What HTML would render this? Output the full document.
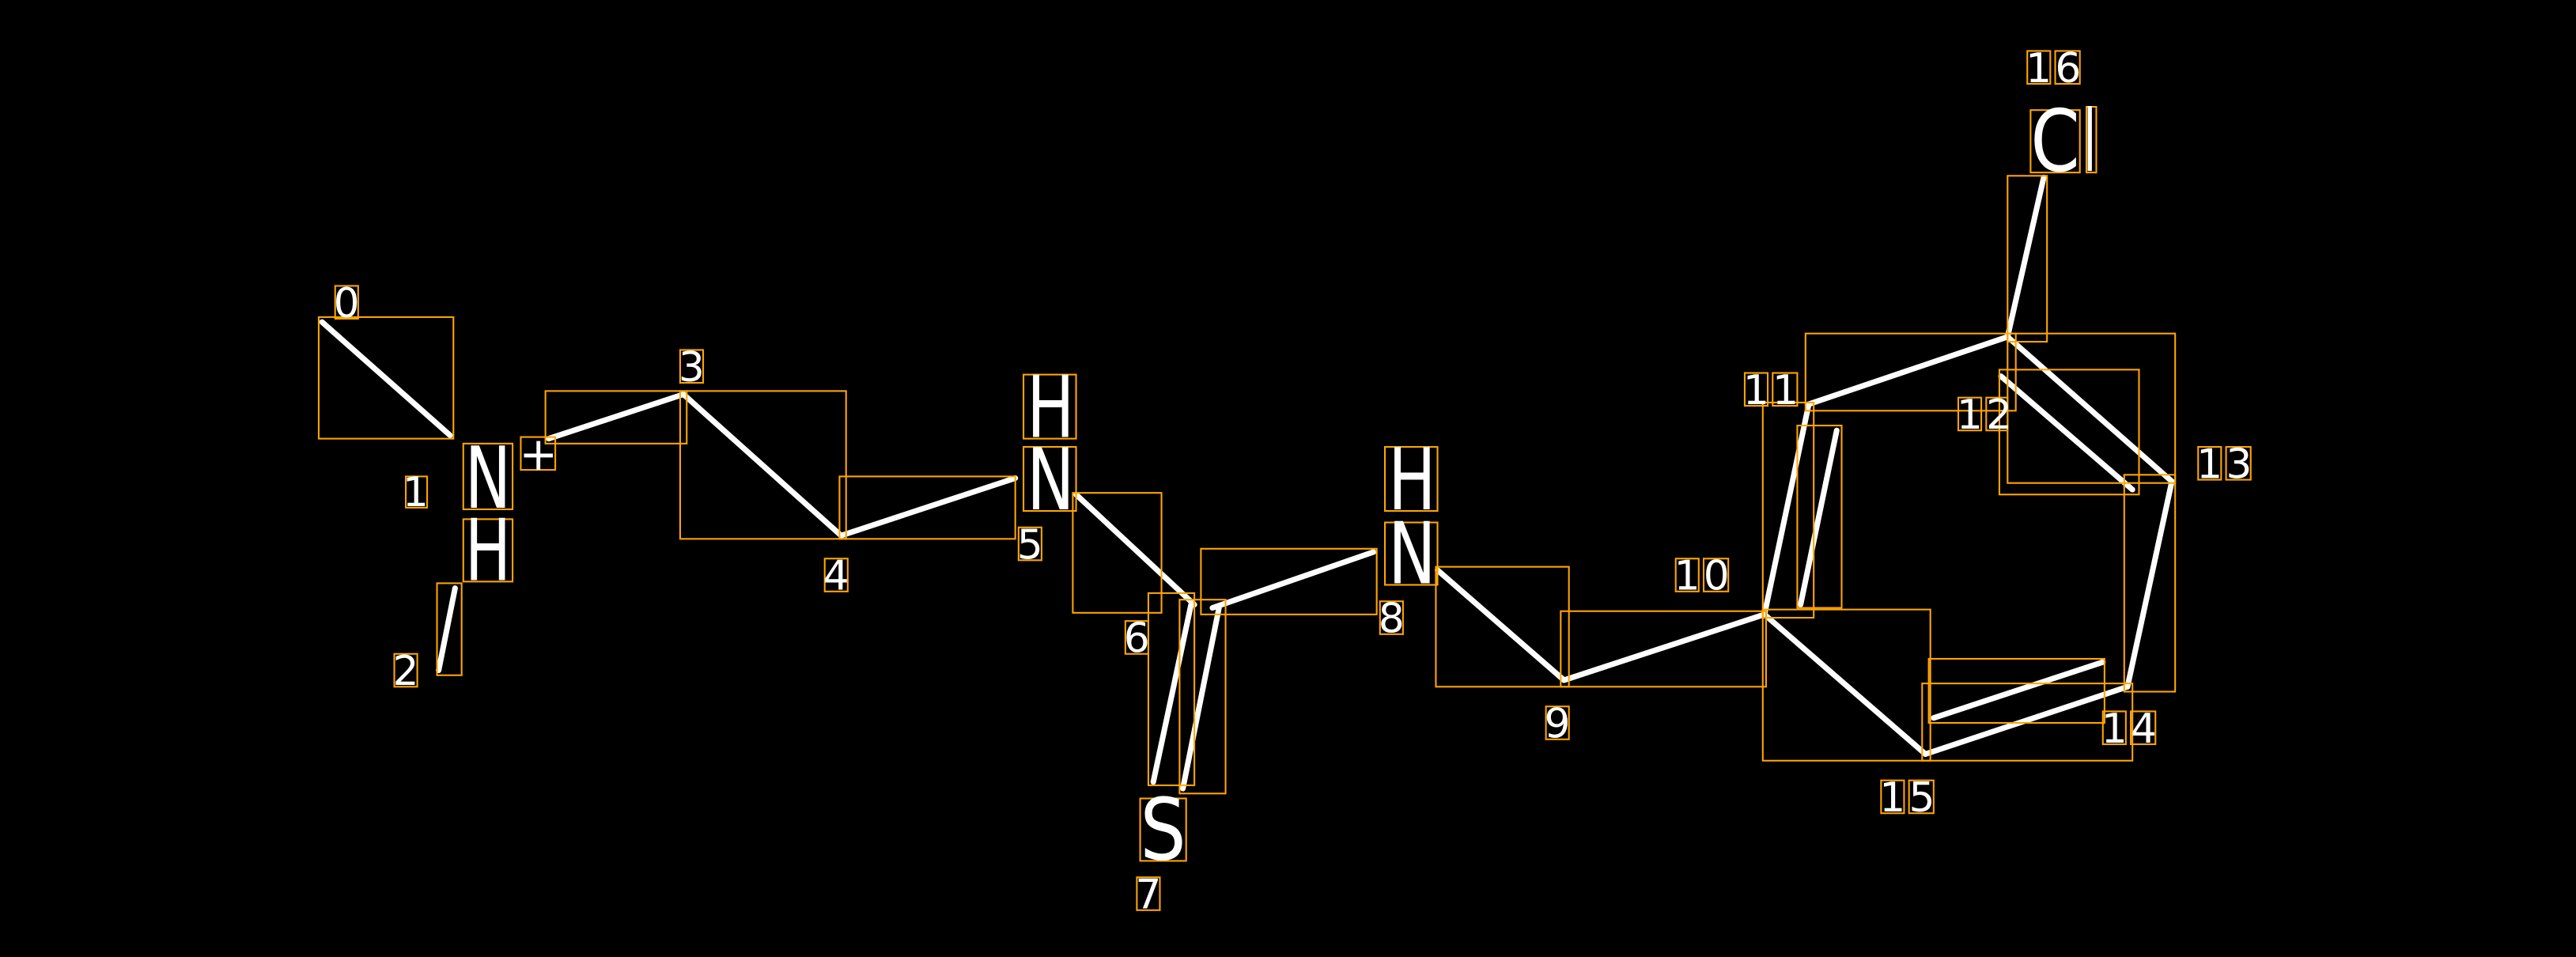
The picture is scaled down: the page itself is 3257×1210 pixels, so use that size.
<!DOCTYPE html>
<html><head><meta charset="utf-8"><style>
html,body{margin:0;padding:0;background:#000;}
svg{display:block;}
text{font-family:"DejaVu Sans","Liberation Sans",sans-serif;fill:#fff;}
</style></head><body>
<svg width="3257" height="1210" viewBox="0 0 1568 582.5" xmlns="http://www.w3.org/2000/svg">
<rect x="0" y="0" width="1568" height="582.5" fill="#000"/>
<g stroke="#fff" stroke-width="3.4" stroke-linecap="round" fill="none">
<line x1="196" y1="196" x2="274" y2="265"/>
<line x1="277" y1="358" x2="267" y2="408"/>
<line x1="334" y1="267" x2="416" y2="240"/>
<line x1="416" y1="240" x2="512" y2="326"/>
<line x1="512" y1="326" x2="618" y2="291"/>
<line x1="655" y1="301" x2="727" y2="368"/>
<line x1="725" y1="368" x2="702" y2="476"/>
<line x1="742" y1="370" x2="720" y2="480"/>
<line x1="738" y1="370" x2="836" y2="336"/>
<line x1="875" y1="347" x2="952" y2="414"/>
<line x1="952" y1="414" x2="1074" y2="374"/>
<line x1="1074" y1="374" x2="1101" y2="246"/>
<line x1="1096" y1="368" x2="1118" y2="262"/>
<line x1="1101" y1="246" x2="1222" y2="205"/>
<line x1="1222" y1="205" x2="1244" y2="108"/>
<line x1="1222" y1="205" x2="1322" y2="293"/>
<line x1="1218" y1="229" x2="1298" y2="298"/>
<line x1="1322" y1="293" x2="1295" y2="418"/>
<line x1="1295" y1="418" x2="1172" y2="459"/>
<line x1="1177" y1="437" x2="1280" y2="403"/>
<line x1="1172" y1="459" x2="1074" y2="374"/>
</g>
<g stroke="#FFA500" stroke-width="1" fill="none">
<rect x="194" y="193" width="82" height="74"/>
<rect x="266" y="355" width="15" height="56"/>
<rect x="332" y="238" width="86" height="32"/>
<rect x="414" y="238" width="101" height="90"/>
<rect x="511" y="290" width="107" height="38"/>
<rect x="653" y="300" width="54" height="73"/>
<rect x="699" y="361" width="28" height="117"/>
<rect x="718" y="365" width="28" height="118"/>
<rect x="731" y="334" width="107" height="40"/>
<rect x="874" y="345" width="81" height="73"/>
<rect x="950" y="372" width="125" height="46"/>
<rect x="1073" y="245" width="31" height="131"/>
<rect x="1094" y="259" width="27" height="111"/>
<rect x="1099" y="203" width="128" height="47"/>
<rect x="1222" y="107" width="24" height="101"/>
<rect x="1222" y="203" width="102" height="91"/>
<rect x="1217" y="225" width="85" height="76"/>
<rect x="1293" y="289" width="31" height="132"/>
<rect x="1174" y="401" width="107" height="39"/>
<rect x="1170" y="416" width="128" height="47"/>
<rect x="1073" y="371" width="102" height="92"/>
<rect x="204" y="174" width="14" height="20"/>
<rect x="247" y="290" width="13" height="19"/>
<rect x="282" y="270" width="30" height="40"/>
<rect x="282" y="316" width="30" height="38"/>
<rect x="317" y="266" width="21" height="20"/>
<rect x="240" y="398" width="14" height="20"/>
<rect x="414" y="213" width="14" height="20"/>
<rect x="502" y="340" width="14" height="20"/>
<rect x="620" y="321" width="14" height="20"/>
<rect x="623" y="228" width="32" height="39"/>
<rect x="623" y="272" width="32" height="39"/>
<rect x="685" y="378" width="14" height="20"/>
<rect x="694" y="486" width="28" height="38"/>
<rect x="692" y="534" width="14" height="20"/>
<rect x="843" y="272" width="32" height="39"/>
<rect x="843" y="318" width="32" height="38"/>
<rect x="840" y="366" width="14" height="20"/>
<rect x="941" y="430" width="14" height="20"/>
<rect x="1020" y="340" width="14" height="20"/><rect x="1037" y="340" width="15" height="20"/>
<rect x="1062" y="227" width="14" height="20"/><rect x="1079" y="227" width="15" height="20"/>
<rect x="1192" y="242" width="14" height="20"/><rect x="1209" y="242" width="13" height="20"/>
<rect x="1338" y="272" width="14" height="20"/><rect x="1355" y="272" width="15" height="20"/>
<rect x="1280" y="433" width="14" height="20"/><rect x="1297" y="433" width="15" height="20"/>
<rect x="1145" y="475" width="14" height="20"/><rect x="1162" y="475" width="15" height="20"/>
<rect x="1234" y="31" width="14" height="20"/><rect x="1251" y="31" width="15" height="20"/>
<rect x="1236" y="67" width="30" height="38"/>
<rect x="1270" y="65" width="6" height="40"/>
</g>
<g font-size="25">
<text x="203" y="193">0</text>
<text x="245" y="308">1</text>
<text x="239" y="417">2</text>
<text x="413" y="232">3</text>
<text x="501" y="359">4</text>
<text x="619" y="340">5</text>
<text x="684" y="397">6</text>
<text x="691" y="553">7</text>
<text x="839" y="385">8</text>
<text x="940" y="449">9</text>
<text x="1019" y="359" letter-spacing="2">10</text>
<text x="1061" y="246" letter-spacing="2">11</text>
<text x="1191" y="261" letter-spacing="2">12</text>
<text x="1337" y="291" letter-spacing="2">13</text>
<text x="1279" y="452" letter-spacing="2">14</text>
<text x="1144" y="494" letter-spacing="2">15</text>
<text x="1233" y="50" letter-spacing="2">16</text>
<text x="316" y="286" font-size="28">+</text>
</g>
<g font-size="52">
<text x="283" y="309" textLength="28" lengthAdjust="spacingAndGlyphs">N</text>
<text x="283" y="353" textLength="28" lengthAdjust="spacingAndGlyphs">H</text>
<text x="625" y="266" textLength="29" lengthAdjust="spacingAndGlyphs">H</text>
<text x="625" y="310" textLength="29" lengthAdjust="spacingAndGlyphs">N</text>
<text x="694" y="523" textLength="28" lengthAdjust="spacingAndGlyphs">S</text>
<text x="845" y="310" textLength="29" lengthAdjust="spacingAndGlyphs">H</text>
<text x="845" y="355" textLength="29" lengthAdjust="spacingAndGlyphs">N</text>
<text x="1236" y="104" textLength="30" lengthAdjust="spacingAndGlyphs">C</text>
<text x="1268" y="104" textLength="8" lengthAdjust="spacingAndGlyphs">l</text>
</g>
</svg>
</body></html>
